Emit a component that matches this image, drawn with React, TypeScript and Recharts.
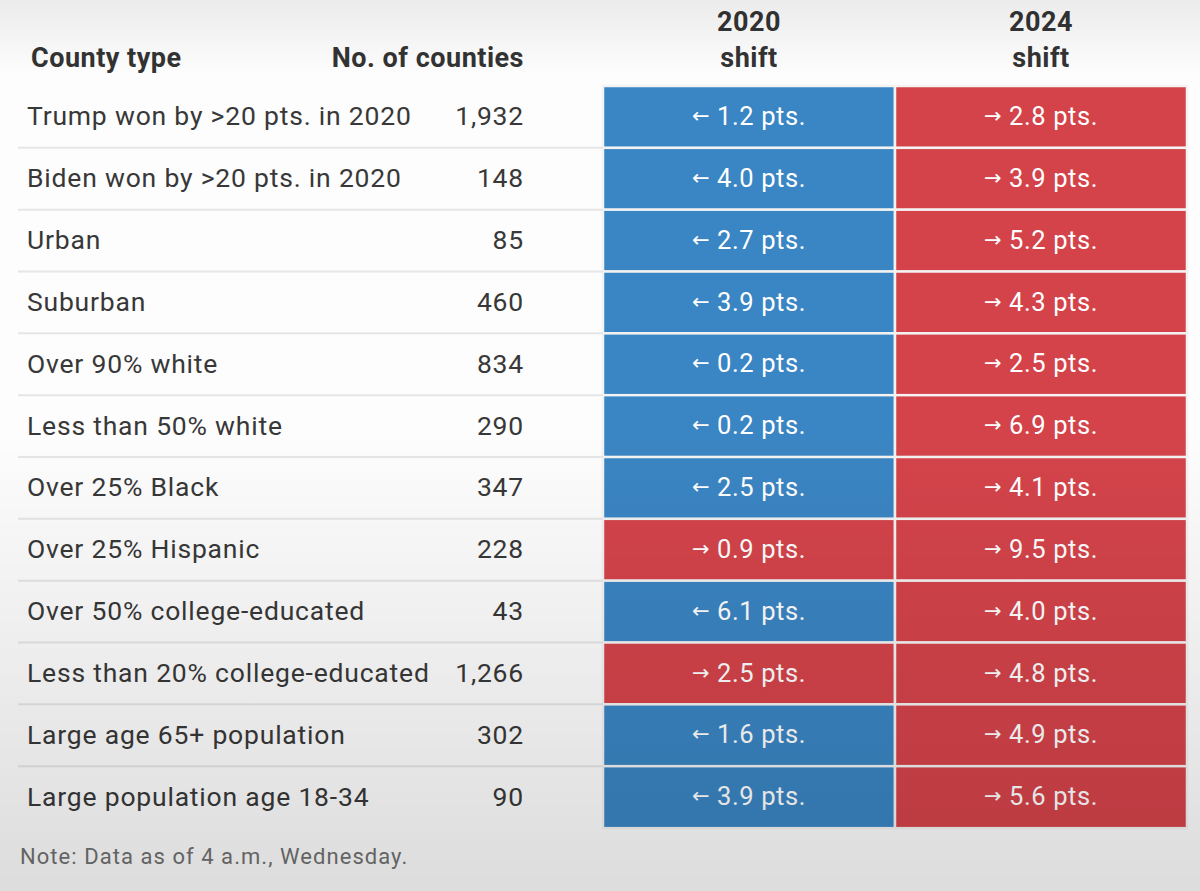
import React from "react";
import { BarChart, Bar, XAxis, YAxis } from "recharts";

const countyTypes = [
  "Trump won by >20 pts. in 2020",
  "Biden won by >20 pts. in 2020",
  "Urban",
  "Suburban",
  "Over 90% white",
  "Less than 50% white",
  "Over 25% Black",
  "Over 25% Hispanic",
  "Over 50% college-educated",
  "Less than 20% college-educated",
  "Large age 65+ population",
  "Large population age 18-34",
];
const countyCounts = [1932, 148, 85, 460, 834, 290, 347, 228, 43, 1266, 302, 90];
// negative = shift toward Democrats (left arrow), positive = toward Republicans (right arrow)
const shift2020 = [-1.2, -4.0, -2.7, -3.9, -0.2, -0.2, -2.5, 0.9, -6.1, 2.5, -1.6, -3.9];
const shift2024 = [2.8, 3.9, 5.2, 4.3, 2.5, 6.9, 4.1, 9.5, 4.0, 4.8, 4.9, 5.6];
const columnHeaders = ["2020", "2024"];

const data = countyTypes.map((t, i) => ({
  type: t,
  count: countyCounts[i],
  s2020: shift2020[i],
  s2024: shift2024[i],
}));

const W = 1200;
const H = 891;
const TOP = 86;
const BOTTOM = 63;
const RIGHT = 13;
const YAXIS_W = 603;
const BAND = (H - TOP - BOTTOM) / data.length;
const FONT = "Roboto, 'Liberation Sans', Arial, sans-serif";
const TEXT = "#383838";
const BLUE = "#3a85c3";
const RED = "#d4434a";

const makeCell = (key: "s2020" | "s2024") => (props: any) => {
  const { x, y, width, height, payload } = props;
  const v = payload[key];
  return (
    <g>
      <rect
        x={x}
        y={y}
        width={width}
        height={height}
        fill={v < 0 ? BLUE : RED}
        stroke="#f3f3f3"
        strokeWidth={2.5}
      />
      <text
        x={x + width / 2}
        y={y + height / 2 - 1}
        textAnchor="middle"
        dominantBaseline="central"
        fill="#ffffff"
        fontSize={25.5}
        fontFamily={FONT}
        letterSpacing={0.6}
      >
        <tspan fontFamily="'DejaVu Sans', sans-serif" fontSize={21}>
          {v < 0 ? "\u2190" : "\u2192"}
        </tspan>
        {" " + Math.abs(v).toFixed(1) + " pts."}
      </text>
    </g>
  );
};

const RowTick = (props: any) => {
  const { y, payload, index } = props;
  const row = data[index] ?? data.find((d) => d.type === payload.value);
  return (
    <g>
      <text
        x={27}
        y={y - 1}
        dominantBaseline="central"
        fill={TEXT}
        fontSize={26.5}
        fontFamily={FONT}
        letterSpacing={0.8}
      >
        {payload.value}
      </text>
      <text
        x={524}
        y={y - 1}
        textAnchor="end"
        dominantBaseline="central"
        fill={TEXT}
        fontSize={26.5}
        fontFamily={FONT}
        letterSpacing={0.8}
      >
        {row ? row.count.toLocaleString("en-US") : ""}
      </text>
      {index < data.length - 1 && (
        <line
          x1={18}
          x2={YAXIS_W}
          y1={y + BAND / 2}
          y2={y + BAND / 2}
          stroke="#e6e6e6"
          strokeWidth={2}
        />
      )}
    </g>
  );
};

const headStyle: React.CSSProperties = {
  position: "absolute",
  fontFamily: FONT,
  fontWeight: 700,
  fontSize: 27,
  letterSpacing: 0.5,
  color: "#333333",
  lineHeight: "36px",
  whiteSpace: "nowrap",
};

export default function App() {
  const colW = (W - RIGHT - YAXIS_W) / 2;
  return (
    <div
      style={{
        position: "absolute",
        left: 0,
        top: 0,
        width: W,
        height: H,
        background: "#fdfdfd",
        overflow: "hidden",
      }}
    >
      <div style={{ ...headStyle, left: 31, top: 40 }}>County type</div>
      <div style={{ ...headStyle, right: W - 524, top: 40 }}>No. of counties</div>
      {columnHeaders.map((h, i) => (
        <div
          key={h}
          style={{
            ...headStyle,
            left: YAXIS_W + i * colW,
            width: colW,
            top: 4,
            textAlign: "center",
          }}
        >
          {h}
          <br />
          shift
        </div>
      ))}
      <div style={{ position: "absolute", left: 0, top: 0 }}>
        <BarChart
          width={W}
          height={H}
          data={data}
          layout="vertical"
          margin={{ top: TOP, right: RIGHT, bottom: BOTTOM, left: 0 }}
          barCategoryGap={0}
        >
          <XAxis type="number" domain={[0, 2]} hide />
          <YAxis
            type="category"
            dataKey="type"
            width={YAXIS_W}
            axisLine={false}
            tickLine={false}
            tick={<RowTick />}
            interval={0}
          />
          <Bar
            dataKey={() => 1}
            stackId="c"
            isAnimationActive={false}
            shape={makeCell("s2020")}
          />
          <Bar
            dataKey={() => 1}
            stackId="c"
            isAnimationActive={false}
            shape={makeCell("s2024")}
          />
        </BarChart>
      </div>
      <div
        style={{
          position: "absolute",
          left: 20,
          top: 844,
          fontFamily: FONT,
          fontSize: 22,
          letterSpacing: 1.05,
          color: "#707070",
        }}
      >
        Note: Data as of 4 a.m., Wednesday.
      </div>
      <div
        style={{
          position: "absolute",
          left: 0,
          top: 0,
          width: W,
          height: H,
          pointerEvents: "none",
          background:
            "linear-gradient(to bottom, rgba(0,0,0,0.07) 0px, rgba(0,0,0,0) 75px, rgba(0,0,0,0) 430px, rgba(0,0,0,0.13) 891px)",
        }}
      />
    </div>
  );
}
